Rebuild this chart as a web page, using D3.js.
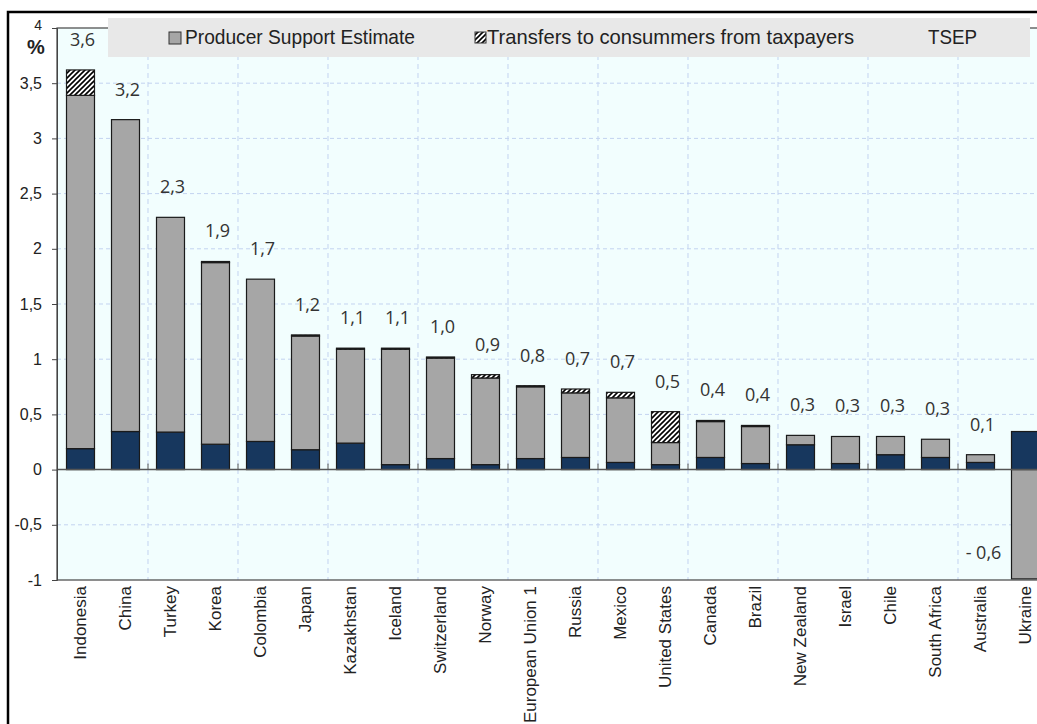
<!DOCTYPE html>
<html>
<head>
<meta charset="utf-8">
<script src="https://cdn.jsdelivr.net/npm/d3@7"></script>
<style>
  body { margin: 0; background: #fff; }
</style>
</head>
<body>
<script>
// Données (% du PIB)
var countries = ["Indonesia", "China", "Turkey", "Korea", "Colombia", "Japan", "Kazakhstan", "Iceland",
    "Switzerland", "Norway", "European Union 1", "Russia", "Mexico", "United States", "Canada", "Brazil",
    "New Zealand", "Israel", "Chile", "South Africa", "Australia", "Ukraine"];
var generalServices = [0.19, 0.345, 0.34, 0.23, 0.255, 0.18, 0.24, 0.045, 0.10, 0.045, 0.10, 0.11,
    0.065, 0.045, 0.11, 0.055, 0.225, 0.055, 0.135, 0.11, 0.065, 0.345];
var producerSupport = [3.20, 2.825, 1.945, 1.645, 1.47, 1.03, 0.85, 1.045, 0.91, 0.785, 0.65, 0.585,
    0.585, 0.20, 0.325, 0.335, 0.085, 0.245, 0.165, 0.165, 0.07, -0.99];
var consumerTransfers = [0.23, 0, 0, 0.01, 0, 0.01, 0.01, 0.01, 0.01, 0.03, 0.01, 0.035,
    0.05, 0.28, 0.01, 0.01, 0, 0, 0, 0, 0, 0];
var tsep = [3.6, 3.2, 2.3, 1.9, 1.7, 1.2, 1.1, 1.1, 1.0, 0.9, 0.8, 0.7, 0.7, 0.5, 0.4, 0.4, 0.3, 0.3, 0.3, 0.3, 0.1, -0.6];
var yTicks = [-1, -0.5, 0, 0.5, 1, 1.5, 2, 2.5, 3, 3.5, 4];

var width = 1037, height = 724;
var plot = { left: 57, top: 28, right: 1048, bottom: 580 };

var svg = d3.select("body").append("svg")
    .attr("width", width)
    .attr("height", height);

// Motif hachuré
var defs = svg.append("defs");
var pat = defs.append("pattern")
    .attr("id", "hatch")
    .attr("patternUnits", "userSpaceOnUse")
    .attr("width", 5).attr("height", 5);
pat.append("rect").attr("width", 5).attr("height", 5).attr("fill", "#fff");
pat.append("path")
    .attr("d", "M-1,1 l2,-2 M0,5 l5,-5 M4,6 l2,-2")
    .attr("stroke", "#000")
    .attr("stroke-width", 1.6);

// Cadre extérieur
svg.append("rect")
    .attr("x", 8).attr("y", 12)
    .attr("width", 1100).attr("height", 800)
    .attr("fill", "#fff")
    .attr("stroke", "#000")
    .attr("stroke-width", 2.5);

var x = d3.scaleBand()
    .domain(countries)
    .range([58, 1048])
    .paddingInner(17 / 45)
    .paddingOuter(17 / 90);

var y = d3.scaleLinear()
    .domain([-1, 4])
    .range([plot.bottom, plot.top]);

// Fond de la zone de tracé
svg.append("rect")
    .attr("x", plot.left).attr("y", plot.top)
    .attr("width", plot.right - plot.left)
    .attr("height", plot.bottom - plot.top)
    .attr("fill", "#f2fefe");

// Quadrillage horizontal
svg.append("g").selectAll("line")
    .data(yTicks.filter(d => d !== -1 && d !== 0 && d !== 4))
    .enter().append("line")
    .attr("x1", plot.left).attr("x2", plot.right)
    .attr("y1", d => y(d)).attr("y2", d => y(d))
    .attr("stroke", "#c3d3f0")
    .attr("stroke-dasharray", "4,3");

// Quadrillage vertical (tous les deux pays)
var vLines = countries.filter((c, i) => i % 2 === 1).map(c => x(c) + x.bandwidth() + x.step() * x.paddingInner() / 2);
svg.append("g").selectAll("line")
    .data(vLines)
    .enter().append("line")
    .attr("x1", d => d).attr("x2", d => d)
    .attr("y1", plot.top).attr("y2", plot.bottom)
    .attr("stroke", "#c3d3f0")
    .attr("stroke-dasharray", "5,4");

// Barres empilées
var table = countries.map(function(c, i) {
    return { country: c, gsse: generalServices[i], pse: producerSupport[i], tct: consumerTransfers[i] };
});
var stack = d3.stack()
    .keys(["gsse", "pse", "tct"])
    .offset(d3.stackOffsetDiverging);
var fills = { gsse: "#17375e", pse: "#a6a6a6", tct: "url(#hatch)" };

svg.append("g").selectAll("g")
    .data(stack(table))
    .enter().append("g")
    .attr("fill", d => fills[d.key])
    .selectAll("rect")
    .data(d => d.filter(p => p[1] - p[0] !== 0))
    .enter().append("rect")
    .attr("x", d => x(d.data.country))
    .attr("width", x.bandwidth())
    .attr("y", d => y(d[1]))
    .attr("height", d => y(d[0]) - y(d[1]))
    .attr("stroke", "#1a1a1a")
    .attr("stroke-width", 1.2);

// Axe zéro et petites graduations
svg.append("line")
    .attr("x1", plot.left).attr("x2", plot.right)
    .attr("y1", y(0)).attr("y2", y(0))
    .attr("stroke", "#555")
    .attr("stroke-width", 1.5);
svg.append("g").selectAll("line")
    .data(vLines)
    .enter().append("line")
    .attr("x1", d => d).attr("x2", d => d)
    .attr("y1", y(0) - 6).attr("y2", y(0))
    .attr("stroke", "#555");

// Bordure de la zone de tracé
svg.append("rect")
    .attr("x", plot.left).attr("y", plot.top)
    .attr("width", plot.right - plot.left)
    .attr("height", plot.bottom - plot.top)
    .attr("fill", "none")
    .attr("stroke", "#444")
    .attr("stroke-width", 1.2);

// Axe Y
var yAxis = svg.append("g")
    .attr("transform", "translate(" + plot.left + ",0)")
    .call(d3.axisLeft(y)
        .tickValues(yTicks)
        .tickSize(5)
        .tickPadding(10)
        .tickFormat(d => String(d).replace(".", ",")));
yAxis.select(".domain").attr("stroke", "#444");
yAxis.selectAll(".tick line").attr("stroke", "#444");
yAxis.selectAll(".tick text")
    .attr("font-family", "Liberation Sans, Arial, sans-serif")
    .attr("font-size", 16)
    .attr("fill", "#222");
// le « 4 » du haut est un peu plus petit
yAxis.selectAll(".tick text").filter(d => d === 4)
    .attr("font-size", 14)
    .attr("dy", "0.1em");

svg.append("text")
    .attr("x", 36).attr("y", 54)
    .attr("text-anchor", "middle")
    .attr("font-family", "Liberation Sans, Arial, sans-serif")
    .attr("font-weight", "bold")
    .attr("font-size", 20)
    .attr("fill", "#222")
    .text("%");

// Libellés des pays
svg.append("g").selectAll("text")
    .data(countries)
    .enter().append("text")
    .attr("transform", d => "translate(" + (x(d) + x.bandwidth() / 2) + ",586) rotate(-90)")
    .attr("dy", "0.35em")
    .attr("text-anchor", "end")
    .attr("font-family", "Liberation Sans, Arial, sans-serif")
    .attr("font-size", 17)
    .attr("fill", "#222")
    .text(d => d);

// Étiquettes TSEP
svg.append("g").selectAll("text")
    .data(table)
    .enter().append("text")
    .attr("x", function(d, i) {
        var cx = x(d.country) + x.bandwidth() / 2 + 2;
        return tsep[i] < 0 ? cx - 44 : cx;
    })
    .attr("y", function(d, i) {
        if (tsep[i] < 0) return y(tsep[i]) + 23;
        var top = Math.max(0, d.gsse) + Math.max(0, d.pse) + Math.max(0, d.tct);
        return y(top) - 24;
    })
    .attr("text-anchor", "middle")
    .attr("font-family", "Open Sans, Noto Sans, sans-serif")
    .attr("font-size", 18)
    .attr("fill", "#333")
    .text(function(d, i) {
        var s = Math.abs(tsep[i]).toFixed(1).replace(".", ",");
        return tsep[i] < 0 ? "- " + s : s;
    });

// Légende
svg.append("rect")
    .attr("x", 108).attr("y", 18)
    .attr("width", 922).attr("height", 39)
    .attr("fill", "#e8e8e8");

var legendFont = "Liberation Sans, Arial, sans-serif";
svg.append("rect")
    .attr("x", 169).attr("y", 32).attr("width", 12).attr("height", 12)
    .attr("fill", "#a6a6a6").attr("stroke", "#333").attr("stroke-width", 1);
svg.append("text")
    .attr("x", 185).attr("y", 44)
    .attr("font-family", legendFont).attr("font-size", 21).attr("fill", "#222")
    .attr("textLength", 230).attr("lengthAdjust", "spacingAndGlyphs")
    .text("Producer Support Estimate");

svg.append("rect")
    .attr("x", 475).attr("y", 32).attr("width", 11).attr("height", 11)
    .attr("fill", "url(#hatch)").attr("stroke", "#333").attr("stroke-width", 1);
svg.append("text")
    .attr("x", 487).attr("y", 44)
    .attr("font-family", legendFont).attr("font-size", 21).attr("fill", "#222")
    .attr("textLength", 367).attr("lengthAdjust", "spacingAndGlyphs")
    .text("Transfers to consummers from taxpayers");

svg.append("text")
    .attr("x", 928).attr("y", 44)
    .attr("font-family", legendFont).attr("font-size", 21).attr("fill", "#222")
    .attr("textLength", 49).attr("lengthAdjust", "spacingAndGlyphs")
    .text("TSEP");
</script>
</body>
</html>
